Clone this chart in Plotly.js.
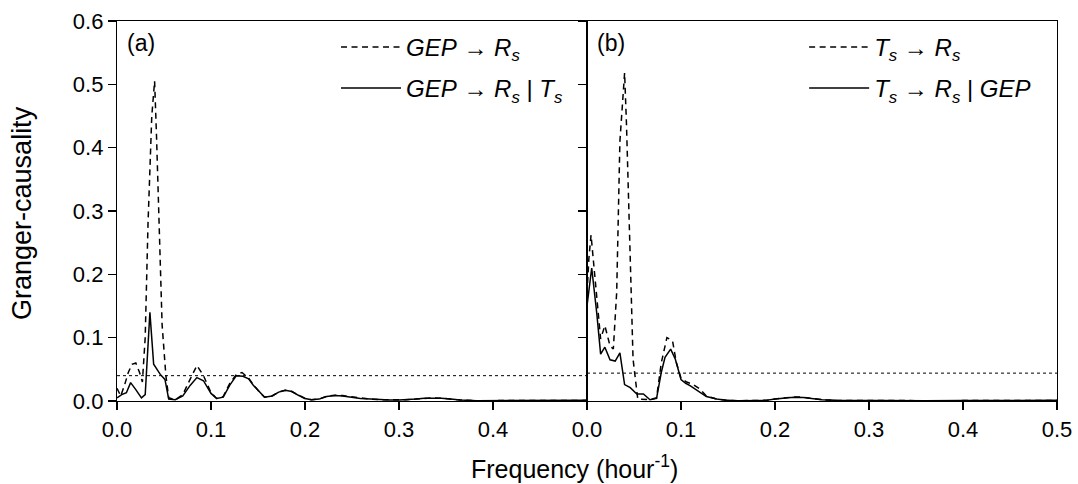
<!DOCTYPE html>
<html>
<head>
<meta charset="utf-8">
<script src="https://cdn.plot.ly/plotly-3.0.1.min.js"></script>
<style>html,body{margin:0;padding:0;background:#fff;}#chart{width:1078px;height:484px;}</style>
</head>
<body>
<div id="chart"></div>
<script>
// Panel (a): GEP -> Rs (dashed) and GEP -> Rs | Ts (solid)
const freqA_cond = [0, 0.005, 0.01, 0.0145, 0.02, 0.026, 0.03, 0.035, 0.039, 0.046, 0.051, 0.055, 0.062, 0.07, 0.078, 0.085, 0.092, 0.1, 0.106, 0.113, 0.12, 0.127, 0.134, 0.14, 0.145, 0.151, 0.157, 0.165, 0.172, 0.179, 0.186, 0.193, 0.2, 0.207, 0.215, 0.223, 0.232, 0.24, 0.25, 0.259, 0.27, 0.28, 0.29, 0.3, 0.308, 0.318, 0.327, 0.336, 0.345, 0.355, 0.365, 0.383, 0.4, 0.42, 0.44, 0.46, 0.48, 0.5];
const gcA_cond = [0.005, 0.01, 0.013, 0.029, 0.018, 0.005, 0.01, 0.14, 0.058, 0.042, 0.034, 0.003, 0.002, 0.008, 0.025, 0.037, 0.032, 0.012, 0.004, 0.006, 0.025, 0.04, 0.039, 0.035, 0.025, 0.015, 0.006, 0.008, 0.014, 0.017, 0.015, 0.009, 0.004, 0.002, 0.003, 0.007, 0.0085, 0.008, 0.006, 0.004, 0.003, 0.002, 0.0016, 0.0015, 0.002, 0.003, 0.0045, 0.005, 0.0045, 0.003, 0.0015, 0.0005, 0.0005, 0.0004, 0.0005, 0.0006, 0.0008, 0.001];
const freqA_pair = [0, 0.004, 0.008, 0.012, 0.016, 0.02, 0.024, 0.027, 0.03, 0.033, 0.037, 0.04, 0.042, 0.045, 0.048, 0.052, 0.055, 0.062, 0.07, 0.078, 0.085, 0.092, 0.1, 0.106, 0.113, 0.12, 0.127, 0.133, 0.14, 0.145, 0.151, 0.157, 0.165, 0.172, 0.179, 0.186, 0.193, 0.2, 0.207, 0.215, 0.223, 0.232, 0.24, 0.25, 0.259, 0.27, 0.28, 0.29, 0.3, 0.308, 0.318, 0.327, 0.336, 0.345, 0.355, 0.365, 0.383, 0.4, 0.42, 0.44, 0.46, 0.48, 0.5];
const gcA_pair = [0.02, 0.008, 0.025, 0.045, 0.058, 0.06, 0.045, 0.03, 0.1, 0.28, 0.45, 0.505, 0.42, 0.28, 0.12, 0.04, 0.005, 0.002, 0.01, 0.035, 0.056, 0.04, 0.013, 0.004, 0.007, 0.028, 0.042, 0.045, 0.036, 0.026, 0.015, 0.006, 0.008, 0.014, 0.017, 0.015, 0.009, 0.004, 0.002, 0.003, 0.0075, 0.009, 0.0085, 0.0065, 0.0045, 0.003, 0.002, 0.0016, 0.0015, 0.002, 0.003, 0.0045, 0.005, 0.0045, 0.003, 0.0015, 0.0005, 0.0005, 0.0004, 0.0005, 0.0006, 0.0008, 0.001];
const thresholdA = 0.04;

// Panel (b): Ts -> Rs (dashed) and Ts -> Rs | GEP (solid)
const freqB_cond = [0, 0.005, 0.0103, 0.0145, 0.019, 0.0245, 0.03, 0.035, 0.04, 0.046, 0.053, 0.06, 0.067, 0.074, 0.079, 0.083, 0.089, 0.094, 0.1, 0.105, 0.11, 0.118, 0.127, 0.138, 0.149, 0.16, 0.175, 0.19, 0.2, 0.21, 0.22, 0.23, 0.24, 0.25, 0.265, 0.28, 0.3, 0.33, 0.36, 0.4, 0.44, 0.47, 0.5];
const gcB_cond = [0.15, 0.21, 0.14, 0.074, 0.085, 0.065, 0.063, 0.076, 0.026, 0.021, 0.011, 0.011, 0.002, 0.004, 0.045, 0.069, 0.082, 0.066, 0.034, 0.028, 0.024, 0.016, 0.007, 0.003, 0.001, 0.0005, 0.0005, 0.001, 0.003, 0.005, 0.006, 0.0055, 0.004, 0.002, 0.001, 0.0008, 0.0005, 0.0005, 0.0005, 0.0006, 0.0006, 0.0008, 0.001];
const freqB_pair = [0, 0.002, 0.0043, 0.0067, 0.0103, 0.0145, 0.019, 0.0245, 0.028, 0.0316, 0.035, 0.04, 0.042, 0.046, 0.049, 0.054, 0.06, 0.067, 0.074, 0.079, 0.085, 0.091, 0.095, 0.1, 0.106, 0.113, 0.12, 0.127, 0.138, 0.149, 0.16, 0.175, 0.19, 0.2, 0.21, 0.22, 0.23, 0.24, 0.25, 0.265, 0.28, 0.3, 0.33, 0.36, 0.4, 0.44, 0.47, 0.5];
const gcB_pair = [0.17, 0.225, 0.262, 0.225, 0.16, 0.098, 0.119, 0.087, 0.082, 0.172, 0.41, 0.518, 0.437, 0.225, 0.066, 0.003, 0.003, 0.002, 0.005, 0.06, 0.1, 0.095, 0.061, 0.036, 0.03, 0.026, 0.019, 0.008, 0.003, 0.001, 0.0005, 0.0005, 0.001, 0.003, 0.005, 0.0065, 0.006, 0.0045, 0.002, 0.001, 0.0008, 0.0005, 0.0005, 0.0005, 0.0006, 0.0006, 0.0008, 0.001];
const thresholdB = 0.044;

const xRange = [0, 0.5];
const yTicks = [0, 0.1, 0.2, 0.3, 0.4, 0.5, 0.6];
const yTickText = ['0.0', '0.1', '0.2', '0.3', '0.4', '0.5', '0.6'];
const xTicksA = [0, 0.1, 0.2, 0.3, 0.4, 0.5];
const xTickTextA = ['0.0', '0.1', '0.2', '0.3', '0.4', ''];
const xTicksB = [0, 0.1, 0.2, 0.3, 0.4, 0.5];
const xTickTextB = ['0.0', '0.1', '0.2', '0.3', '0.4', '0.5'];

const FONT = 'Liberation Sans, Arial, sans-serif';
const dashStyle = '6px,4.5px';

const traces = [
  {x: freqA_pair, y: gcA_pair, type: 'scatter', mode: 'lines', xaxis: 'x', yaxis: 'y',
   line: {color: '#000', width: 1.5, dash: dashStyle},
   name: '<i>GEP</i> → <i>R<sub>s</sub></i>', legend: 'legend', legendgroup: 'a1'},
  {x: freqA_cond, y: gcA_cond, type: 'scatter', mode: 'lines', xaxis: 'x', yaxis: 'y',
   line: {color: '#000', width: 1.5},
   name: '<i>GEP</i> → <i>R<sub>s</sub></i> | <i>T<sub>s</sub></i>', legend: 'legend', legendgroup: 'a2'},
  {x: xRange, y: [thresholdA, thresholdA], type: 'scatter', mode: 'lines', xaxis: 'x', yaxis: 'y',
   line: {color: '#000', width: 1, dash: 'dot'}, showlegend: false},
  {x: freqB_pair, y: gcB_pair, type: 'scatter', mode: 'lines', xaxis: 'x2', yaxis: 'y2',
   line: {color: '#000', width: 1.5, dash: dashStyle},
   name: '<i>T<sub>s</sub></i> → <i>R<sub>s</sub></i>', legend: 'legend2', legendgroup: 'b1'},
  {x: freqB_cond, y: gcB_cond, type: 'scatter', mode: 'lines', xaxis: 'x2', yaxis: 'y2',
   line: {color: '#000', width: 1.5},
   name: '<i>T<sub>s</sub></i> → <i>R<sub>s</sub></i> | <i>GEP</i>', legend: 'legend2', legendgroup: 'b2'},
  {x: xRange, y: [thresholdB, thresholdB], type: 'scatter', mode: 'lines', xaxis: 'x2', yaxis: 'y2',
   line: {color: '#000', width: 1, dash: 'dot'}, showlegend: false}
];

const axisCommon = {
  showline: true, linecolor: '#000', linewidth: 1.2, mirror: true,
  ticks: 'outside', ticklen: 8, tickwidth: 1.2, tickcolor: '#000',
  showgrid: false, zeroline: false,
  tickfont: {family: FONT, size: 22, color: '#000'}
};

const legendCommon = {
  bgcolor: 'rgba(0,0,0,0)', borderwidth: 0,
  font: {family: FONT, size: 24, color: '#000'},
  itemwidth: 60, tracegroupgap: 7, xanchor: 'left', yanchor: 'top', traceorder: 'grouped'
};

const layout = {
  width: 1078, height: 484,
  margin: {l: 117, r: 21, t: 21, b: 83},
  paper_bgcolor: '#fff', plot_bgcolor: '#fff',
  showlegend: true,
  xaxis: Object.assign({}, axisCommon, {domain: [0, 0.5], range: xRange, tickvals: xTicksA, ticktext: xTickTextA, anchor: 'y'}),
  yaxis: Object.assign({}, axisCommon, {range: [0, 0.6], tickvals: yTicks, ticktext: yTickText, anchor: 'x'}),
  xaxis2: Object.assign({}, axisCommon, {domain: [0.5, 1], range: xRange, tickvals: xTicksB, ticktext: xTickTextB, anchor: 'y2'}),
  yaxis2: Object.assign({}, axisCommon, {range: [0, 0.6], tickvals: yTicks, showticklabels: false, anchor: 'x2'}),
  legend: Object.assign({}, legendCommon, {x: 0.233, y: 0.99}),
  legend2: Object.assign({}, legendCommon, {x: 0.731, y: 0.99}),
  annotations: [
    {text: '(a)', xref: 'paper', yref: 'paper', x: 0.009, y: 0.942, xanchor: 'left', yanchor: 'middle', showarrow: false, font: {family: FONT, size: 23, color: '#000'}},
    {text: '(b)', xref: 'paper', yref: 'paper', x: 0.509, y: 0.942, xanchor: 'left', yanchor: 'middle', showarrow: false, font: {family: FONT, size: 23, color: '#000'}},
    {text: 'Granger-causality', xref: 'paper', yref: 'paper', x: -0.101, y: 0.495, xanchor: 'center', yanchor: 'middle', textangle: -90, showarrow: false, font: {family: FONT, size: 27, color: '#000'}},
    {text: 'Frequency (hour<sup>-1</sup>)', xref: 'paper', yref: 'paper', x: 0.487, y: -0.174, xanchor: 'center', yanchor: 'middle', showarrow: false, font: {family: FONT, size: 25, color: '#000'}}
  ]
};

Plotly.newPlot('chart', traces, layout, {displayModeBar: false, staticPlot: true});
</script>
</body>
</html>
